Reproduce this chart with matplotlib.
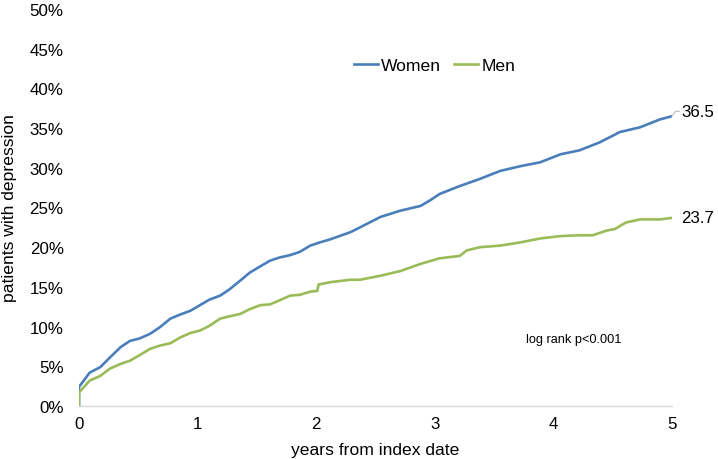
import matplotlib
matplotlib.use("Agg")
import matplotlib.pyplot as plt
from matplotlib.ticker import PercentFormatter

plt.rcParams["font.family"] = ["Liberation Sans", "DejaVu Sans"]

# --- Data (years, cumulative share with depression) ---
women_years = [0.0, 0.0, 0.01, 0.09, 0.18, 0.26, 0.35, 0.43, 0.51, 0.60, 0.68, 0.77,
               0.85, 0.94, 1.02, 1.10, 1.19, 1.27, 1.36, 1.44, 1.53, 1.61, 1.69,
               1.78, 1.86, 1.95, 2.03, 2.12, 2.29, 2.37, 2.54, 2.71, 2.88, 2.96,
               3.04, 3.21, 3.38, 3.55, 3.72, 3.89, 4.06, 4.22, 4.39, 4.56, 4.73,
               4.90, 5.0]
women_pct = [0.0, 2.5, 2.6, 4.2, 4.9, 6.1, 7.4, 8.2, 8.5, 9.1, 9.9, 11.0,
             11.5, 12.0, 12.7, 13.4, 13.9, 14.7, 15.8, 16.8, 17.6, 18.3, 18.7,
             19.0, 19.4, 20.2, 20.6, 21.0, 21.9, 22.5, 23.8, 24.6, 25.2, 25.9,
             26.7, 27.7, 28.6, 29.6, 30.2, 30.7, 31.7, 32.2, 33.2, 34.5, 35.1,
             36.1, 36.5]

men_years = [0.0, 0.0, 0.09, 0.18, 0.26, 0.35, 0.43, 0.51, 0.60, 0.68, 0.77, 0.85,
             0.94, 1.02, 1.10, 1.19, 1.27, 1.36, 1.44, 1.53, 1.61, 1.69, 1.78,
             1.86, 1.95, 2.01, 2.02, 2.12, 2.29, 2.37, 2.54, 2.71, 2.88, 3.04,
             3.21, 3.27, 3.38, 3.55, 3.72, 3.89, 4.06, 4.22, 4.33, 4.45, 4.52,
             4.61, 4.73, 4.90, 5.0]
men_pct = [0.0, 1.7, 3.2, 3.8, 4.7, 5.3, 5.7, 6.4, 7.2, 7.6, 7.9, 8.6,
           9.2, 9.5, 10.1, 11.0, 11.3, 11.6, 12.2, 12.7, 12.8, 13.3, 13.9,
           14.0, 14.4, 14.5, 15.3, 15.6, 15.9, 15.9, 16.4, 17.0, 17.9, 18.6,
           18.9, 19.6, 20.0, 20.2, 20.6, 21.1, 21.4, 21.5, 21.5, 22.1, 22.3,
           23.1, 23.5, 23.5, 23.7]

end_labels = ["36.5", "23.7"]
x_ticks = [0, 1, 2, 3, 4, 5]
y_ticks = [0, 5, 10, 15, 20, 25, 30, 35, 40, 45, 50]

BLUE = "#4a7ebb"
GREEN = "#9bbb59"
FS = 12.2

fig = plt.figure(figsize=(7.18, 4.60), dpi=100)
ax = fig.add_axes([79 / 718, 53 / 460, 593 / 718, 397 / 460])

ax.plot(women_years, women_pct, color=BLUE, lw=1.9, label="Women")
ax.plot(men_years, men_pct, color=GREEN, lw=1.9, label="Men")

ax.set_xlim(0, 5)
ax.set_ylim(0, 50)
ax.set_xticks(x_ticks)
ax.set_yticks(y_ticks)
ax.yaxis.set_major_formatter(PercentFormatter(decimals=0))
ax.tick_params(axis="both", length=0, labelsize=FS, colors="black")
ax.tick_params(axis="y", pad=11)
ax.tick_params(axis="x", pad=7)

for side in ("left", "right", "top"):
    ax.spines[side].set_visible(False)
ax.spines["bottom"].set_color("#d9d9d9")
ax.spines["bottom"].set_linewidth(1.0)

ax.set_xlabel("years from index date", fontsize=12.6, labelpad=8)
ax.set_ylabel("patients with depression", fontsize=12.6, labelpad=9)

# end-of-curve labels with short leader lines
for xs, ys, lab, dy in [(women_years, women_pct, end_labels[0], 0.6),
                        (men_years, men_pct, end_labels[1], 0.0)]:
    x_end, y_end = xs[-1], ys[-1]
    if dy:
        ax.plot([x_end, x_end + 0.03, x_end + 0.06], [y_end, y_end + dy, y_end + dy],
                color="#bfbfbf", lw=0.8, clip_on=False)
    ax.text(x_end + 0.08, y_end + dy, lab, fontsize=FS, va="center", ha="left",
            clip_on=False)

ax.text(0.835, 0.17, "log rank p<0.001", transform=ax.transAxes, fontsize=9.2,
        ha="center", va="center")

ax.legend(loc="center", bbox_to_anchor=(0.600, 0.857), ncol=2, frameon=False,
          fontsize=12.6, handlelength=1.35, handletextpad=0.2, columnspacing=0.75)

fig.savefig("out.png", dpi=100)
